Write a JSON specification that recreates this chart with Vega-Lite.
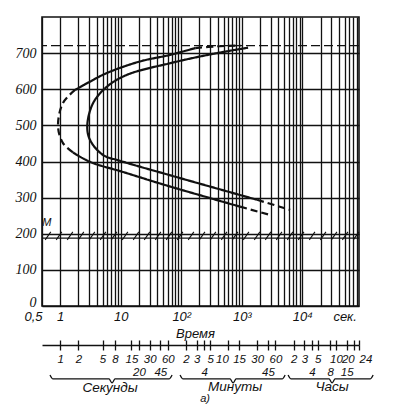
{
  "$schema": "https://vega.github.io/schema/vega-lite/v6.json",
  "autosize": "none",
  "padding": {"left": 42, "top": 17, "right": 40, "bottom": 99},
  "width": 317,
  "height": 289,
  "background": "white",
  "config": {
    "view": {"stroke": "#111", "strokeWidth": 1.6},
    "axis": {"labelColor": "#111", "titleColor": "#111", "domainColor": "#111", "tickColor": "#111", "gridColor": "#111", "gridOpacity": 1}
  },
  "datasets": {
    "curves": [
      {"seg": "s_up_tail", "style": "dashed", "i": 0, "t": 170, "T": 714},
      {"seg": "s_up_tail", "style": "dashed", "i": 1, "t": 400, "T": 719},
      {"seg": "s_up_tail", "style": "dashed", "i": 2, "t": 950, "T": 721},
      {"seg": "s_up", "style": "solid", "i": 0, "t": 1.76, "T": 598},
      {"seg": "s_up", "style": "solid", "i": 1, "t": 3.1, "T": 621},
      {"seg": "s_up", "style": "solid", "i": 2, "t": 5.9, "T": 645},
      {"seg": "s_up", "style": "solid", "i": 3, "t": 20.8, "T": 677},
      {"seg": "s_up", "style": "solid", "i": 4, "t": 65, "T": 695},
      {"seg": "s_up", "style": "solid", "i": 5, "t": 170, "T": 714},
      {"seg": "s_nose", "style": "dashed", "i": 0, "t": 1.76, "T": 598},
      {"seg": "s_nose", "style": "dashed", "i": 1, "t": 1.11, "T": 562},
      {"seg": "s_nose", "style": "dashed", "i": 2, "t": 0.92, "T": 497},
      {"seg": "s_nose", "style": "dashed", "i": 3, "t": 1.11, "T": 451},
      {"seg": "s_nose", "style": "dashed", "i": 4, "t": 1.63, "T": 425},
      {"seg": "s_low", "style": "solid", "i": 0, "t": 1.63, "T": 425},
      {"seg": "s_low", "style": "solid", "i": 1, "t": 3.1, "T": 399},
      {"seg": "s_low", "style": "solid", "i": 2, "t": 10.9, "T": 371},
      {"seg": "s_low", "style": "solid", "i": 3, "t": 53.6, "T": 335},
      {"seg": "s_low", "style": "solid", "i": 4, "t": 937, "T": 275},
      {"seg": "s_low_tail", "style": "dashed", "i": 0, "t": 937, "T": 275},
      {"seg": "s_low_tail", "style": "dashed", "i": 1, "t": 2940, "T": 252},
      {"seg": "e", "style": "solid", "i": 0, "t": 1270, "T": 715},
      {"seg": "e", "style": "solid", "i": 1, "t": 336, "T": 698},
      {"seg": "e", "style": "solid", "i": 2, "t": 65, "T": 672},
      {"seg": "e", "style": "solid", "i": 3, "t": 12.7, "T": 640},
      {"seg": "e", "style": "solid", "i": 4, "t": 5.9, "T": 607},
      {"seg": "e", "style": "solid", "i": 5, "t": 3.5, "T": 562},
      {"seg": "e", "style": "solid", "i": 6, "t": 2.8, "T": 500},
      {"seg": "e", "style": "solid", "i": 7, "t": 3.1, "T": 460},
      {"seg": "e", "style": "solid", "i": 8, "t": 5.1, "T": 418},
      {"seg": "e", "style": "solid", "i": 9, "t": 9.7, "T": 402},
      {"seg": "e", "style": "solid", "i": 10, "t": 53.6, "T": 366},
      {"seg": "e", "style": "solid", "i": 11, "t": 1790, "T": 294},
      {"seg": "e_tail", "style": "dashed", "i": 0, "t": 1790, "T": 294},
      {"seg": "e_tail", "style": "dashed", "i": 1, "t": 6290, "T": 266}
    ],
    "hatch": [
      {"t": 0.628}, {"t": 0.955}, {"t": 1.452}, {"t": 2.207}, {"t": 3.354}, {"t": 5.10},
      {"t": 7.75}, {"t": 11.78}, {"t": 17.9}, {"t": 27.2}, {"t": 41.4}, {"t": 62.8},
      {"t": 95.5}, {"t": 145}, {"t": 221}, {"t": 335}, {"t": 510}, {"t": 775},
      {"t": 1178}, {"t": 1790}, {"t": 2720}, {"t": 4136}, {"t": 6285}, {"t": 9550},
      {"t": 14520}, {"t": 22070}, {"t": 33550}, {"t": 51000}, {"t": 77500}
    ],
    "braces": [
      {"b": "s", "t": 0.678, "T": -191}, {"b": "s", "t": 0.76, "T": -202}, {"b": "s", "t": 6.4, "T": -202},
      {"b": "s", "t": 7.18, "T": -213}, {"b": "s", "t": 8.05, "T": -202}, {"b": "s", "t": 62.8, "T": -202},
      {"b": "s", "t": 70.5, "T": -191},
      {"b": "m", "t": 95.5, "T": -191}, {"b": "m", "t": 107, "T": -202}, {"b": "m", "t": 640, "T": -202},
      {"b": "m", "t": 718, "T": -213}, {"b": "m", "t": 805, "T": -202}, {"b": "m", "t": 4640, "T": -202},
      {"b": "m", "t": 5200, "T": -191},
      {"b": "h", "t": 5820, "T": -191}, {"b": "h", "t": 6530, "T": -202}, {"b": "h", "t": 27700, "T": -202},
      {"b": "h", "t": 31000, "T": -213}, {"b": "h", "t": 34800, "T": -202}, {"b": "h", "t": 132000, "T": -202},
      {"b": "h", "t": 148000, "T": -191}
    ],
    "words": [
      {"label": "Секунды", "t": 6.65, "T": -226},
      {"label": "Минуты", "t": 776, "T": -223},
      {"label": "Часы", "t": 31000, "T": -223}
    ],
    "caption": [{"label": "а)", "t": 247, "T": -257}],
    "marker": [{"label": "M", "t": 0.6, "T": 231}],
    "levels": [{"name": "A1", "T": 721}, {"name": "M", "T": 188}]
  },
  "layer": [
    {
      "data": {"name": "curves"},
      "mark": {"type": "line", "color": "#111", "strokeWidth": 2.2, "interpolate": "catmull-rom"},
      "encoding": {
        "x": {
          "field": "t", "type": "quantitative",
          "scale": {"type": "log", "domain": [0.5, 86400], "nice": false},
          "axis": {
            "values": [0.5, 1, 2, 3, 4, 5, 6, 7, 8, 9, 10, 20, 30, 40, 50, 60, 70, 80, 90, 100, 200, 300, 400, 500, 600, 700, 800, 900, 1000, 2000, 3000, 4000, 5000, 6000, 7000, 8000, 9000, 10000, 20000, 30000, 40000, 50000, 60000, 70000, 80000],
            "grid": true, "gridWidth": 1.3, "ticks": false, "domain": false,
            "labelExpr": "datum.value==0.5?'0,5':datum.value==1?'1':datum.value==10?'10':datum.value==100?'10²':datum.value==1000?'10³':datum.value==10000?'10⁴':datum.value==50000?'сек.':''",
            "labelFlush": false, "labelOverlap": false, "labelPadding": 4,
            "labelFont": "Liberation Sans", "labelFontSize": 13, "labelFontStyle": "italic",
            "labelAlign": {"condition": {"test": "datum.value == 0.5", "value": "right"}, "value": "center"},
            "title": "Время", "titleFont": "Liberation Sans", "titleFontSize": 13, "titleFontStyle": "italic", "titleFontWeight": "normal",
            "titlePadding": 4, "titleX": 153, "titleAlign": "center"
          }
        },
        "y": {
          "field": "T", "type": "quantitative",
          "scale": {"domain": [0, 800], "nice": false, "zero": false},
          "axis": {
            "values": [0, 100, 200, 300, 400, 500, 600, 700],
            "grid": true, "gridWidth": 1.3, "ticks": false, "domain": false,
            "labelPadding": 6, "labelFont": "Liberation Serif", "labelFontSize": 14, "labelFontStyle": "italic",
            "labelBaseline": {"condition": {"test": "datum.value == 0", "value": "alphabetic"}, "value": "middle"},
            "title": null
          }
        },
        "order": {"field": "i", "type": "quantitative"},
        "detail": {"field": "seg"},
        "strokeDash": {"field": "style", "type": "nominal", "scale": {"domain": ["solid", "dashed"], "range": [[1, 0], [7, 4]]}, "legend": null}
      }
    },
    {
      "data": {"name": "levels"},
      "transform": [{"filter": "datum.name == 'A1'"}],
      "mark": {"type": "rule", "color": "#111", "strokeWidth": 1.3, "strokeDash": [9, 4]},
      "encoding": {
        "y": {"field": "T", "type": "quantitative", "scale": {"domain": [0, 800], "nice": false, "zero": false}, "axis": null}
      }
    },
    {
      "data": {"name": "levels"},
      "transform": [{"filter": "datum.name == 'M'"}],
      "mark": {"type": "rule", "color": "#111", "strokeWidth": 1.3},
      "encoding": {
        "y": {"field": "T", "type": "quantitative", "scale": {"domain": [0, 800], "nice": false, "zero": false}, "axis": null}
      }
    },
    {
      "data": {"name": "hatch"},
      "mark": {"type": "point", "shape": "M-0.7,1L0.7,-1", "size": 64, "filled": false, "stroke": "#111", "strokeWidth": 1.1, "opacity": 1},
      "encoding": {
        "x": {
          "field": "t", "type": "quantitative",
          "scale": {"type": "log", "domain": [0.5, 86400], "nice": false},
          "axis": {
            "orient": "bottom", "offset": 39,
            "values": [1, 2, 5, 8, 15, 20, 30, 45, 60, 120, 180, 240, 300, 600, 900, 1800, 2700, 3600, 7200, 10800, 14400, 18000, 28800, 36000, 54000, 72000, 86400],
            "grid": false, "domain": true, "domainWidth": 1.3, "ticks": true, "tickSize": 5, "tickWidth": 1.3,
            "labelExpr": "indexof([20,45,240,2700,14400,28800,54000], datum.value) >= 0 ? '' : (datum.value <= 60 ? datum.value : datum.value <= 3600 ? datum.value/60 : datum.value/3600)",
            "labelAlign": {"condition": [{"test": "datum.value == 600 || datum.value == 72000", "value": "right"}, {"test": "datum.value == 86400", "value": "left"}], "value": "center"},
            "labelFlush": false, "labelOverlap": false, "labelPadding": 3,
            "labelFont": "Liberation Sans", "labelFontSize": 11.5, "labelFontStyle": "italic",
            "title": null
          }
        },
        "y": {"datum": 194, "type": "quantitative", "scale": {"domain": [0, 800], "nice": false, "zero": false}, "axis": null}
      }
    },
    {
      "data": {"name": "braces"},
      "mark": {"type": "line", "color": "#111", "strokeWidth": 1.3, "interpolate": "monotone"},
      "encoding": {
        "x": {
          "field": "t", "type": "quantitative",
          "scale": {"type": "log", "domain": [0.5, 86400], "nice": false},
          "axis": {
            "orient": "bottom", "offset": 39,
            "values": [20, 45, 240, 2700, 14400, 28800, 54000],
            "grid": false, "domain": false, "ticks": false, "tickSize": 0,
            "labelExpr": "datum.value <= 60 ? datum.value : datum.value <= 3600 ? datum.value/60 : datum.value/3600",
            "labelFlush": false, "labelOverlap": false, "labelPadding": 21,
            "labelFont": "Liberation Sans", "labelFontSize": 11.5, "labelFontStyle": "italic",
            "title": null
          }
        },
        "y": {"field": "T", "type": "quantitative", "scale": {"domain": [0, 800], "nice": false, "zero": false}, "axis": null},
        "detail": {"field": "b"}
      }
    },
    {
      "data": {"name": "words"},
      "mark": {"type": "text", "font": "Liberation Sans", "fontSize": 13.5, "fontStyle": "italic", "color": "#111", "align": "center", "baseline": "middle"},
      "encoding": {
        "x": {
          "field": "t", "type": "quantitative",
          "scale": {"type": "log", "domain": [0.5, 86400], "nice": false},
          "axis": {
            "orient": "bottom", "offset": 34,
            "values": [1, 2, 5, 8, 15, 20, 30, 45, 60, 120, 180, 240, 300, 600, 900, 1800, 2700, 3600, 7200, 10800, 14400, 18000, 28800, 36000, 54000, 72000, 86400],
            "grid": false, "domain": false, "ticks": true, "tickSize": 5, "tickWidth": 1.3, "labels": false,
            "title": null
          }
        },
        "y": {"field": "T", "type": "quantitative", "scale": {"domain": [0, 800], "nice": false, "zero": false}, "axis": null},
        "text": {"field": "label"}
      }
    },
    {
      "data": {"name": "caption"},
      "mark": {"type": "text", "font": "Liberation Sans", "fontSize": 11, "fontStyle": "italic", "color": "#111", "align": "center", "baseline": "middle"},
      "encoding": {
        "x": {"field": "t", "type": "quantitative", "scale": {"type": "log", "domain": [0.5, 86400], "nice": false}, "axis": null},
        "y": {"field": "T", "type": "quantitative", "scale": {"domain": [0, 800], "nice": false, "zero": false}, "axis": null},
        "text": {"field": "label"}
      }
    },
    {
      "data": {"name": "marker"},
      "mark": {"type": "text", "font": "Liberation Sans", "fontSize": 11, "fontStyle": "italic", "color": "#111", "align": "center", "baseline": "middle"},
      "encoding": {
        "x": {"field": "t", "type": "quantitative", "scale": {"type": "log", "domain": [0.5, 86400], "nice": false}, "axis": null},
        "y": {"field": "T", "type": "quantitative", "scale": {"domain": [0, 800], "nice": false, "zero": false}, "axis": null},
        "text": {"field": "label"}
      }
    }
  ],
  "resolve": {"axis": {"x": "independent", "y": "independent"}}
}
